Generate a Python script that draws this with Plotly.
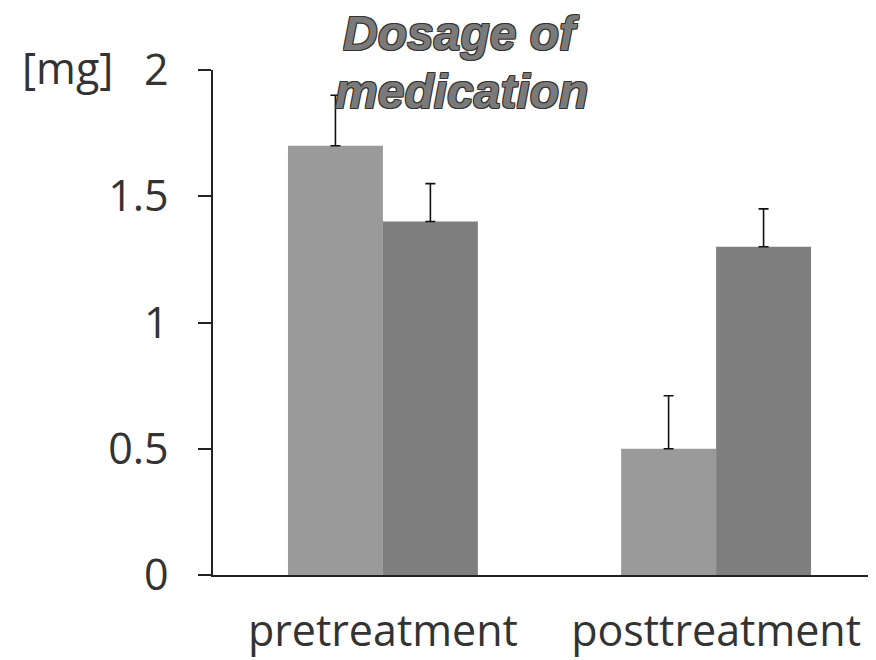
import plotly.graph_objects as go

categories = ["pretreatment", "posttreatment"]
series_a = [1.7, 0.5]
series_b = [1.4, 1.3]
err_a = [0.2, 0.21]
err_b = [0.15, 0.15]
y_ticks = [0, 0.5, 1, 1.5, 2]
y_tick_labels = ["0", "0.5", "1", "1.5", "2"]
title_lines = ["Dosage of", "medication"]

x_pos = [0, 1]

# page body has an 8px offset; compensate in margins
OFF = 8
L, T, PW, PH = 213 - OFF, 70 - OFF, 663, 505

fig = go.Figure()
fig.add_trace(go.Bar(
    x=x_pos, y=series_a, name="A",
    marker=dict(color="#9a9a9a", line=dict(width=0)),
    error_y=dict(type="data", symmetric=False, array=err_a, arrayminus=[0, 0],
                 color="#111111", thickness=1.6, width=5),
))
fig.add_trace(go.Bar(
    x=x_pos, y=series_b, name="B",
    marker=dict(color="#7f7f7f", line=dict(width=0)),
    error_y=dict(type="data", symmetric=False, array=err_b, arrayminus=[0, 0],
                 color="#111111", thickness=1.6, width=5),
))

tick_font = dict(size=43, family="Open Sans, Lato, sans-serif", color="#333333")
title_font = dict(size=48, family="Liberation Sans, Arial, sans-serif", color="#7a7a7a",
                  shadow="1px 1px 0 #333, -1px -1px 0 #333, 1px -1px 0 #333, -1px 1px 0 #333")

# vertical centres of the two title lines (page pixels)
title_centres = [34, 91]
annotations = []
for line, cy in zip(title_lines, title_centres):
    annotations.append(dict(
        text="<b><i>" + line + "</i></b>", xref="paper", yref="paper",
        x=(461 - 213) / PW, y=1.0 + (T - (cy - OFF)) / PH,
        xanchor="center", yanchor="middle", showarrow=False, font=title_font))
annotations.append(dict(
    text="[mg]", xref="paper", yref="paper",
    x=(20 - 213) / PW, y=(575 - 67) / PH, xanchor="left", yanchor="middle",
    showarrow=False, font=tick_font))

fig.update_layout(
    width=876, height=660,
    margin=dict(l=L, r=876 - L - PW, t=T, b=660 - T - PH),
    paper_bgcolor="white", plot_bgcolor="white",
    barmode="group", bargap=0.43, bargroupgap=0,
    showlegend=False,
    font=dict(family="Open Sans, sans-serif", color="#333333"),
    xaxis=dict(
        range=[-0.51, 1.48], tickmode="array", tickvals=x_pos, ticktext=categories,
        showline=True, linecolor="#222222", linewidth=1.6, ticks="",
        showgrid=False, zeroline=False,
        tickfont=tick_font,
        ticklabelstandoff=18,
    ),
    yaxis=dict(
        range=[0, 2], tickmode="array", tickvals=y_ticks, ticktext=y_tick_labels,
        showline=True, linecolor="#222222", linewidth=1.6,
        ticks="outside", ticklen=13, tickwidth=1.6, tickcolor="#222222",
        showgrid=False, zeroline=False,
        tickfont=tick_font,
        ticklabelstandoff=21,
    ),
    annotations=annotations,
)

fig.write_html("out.html")
